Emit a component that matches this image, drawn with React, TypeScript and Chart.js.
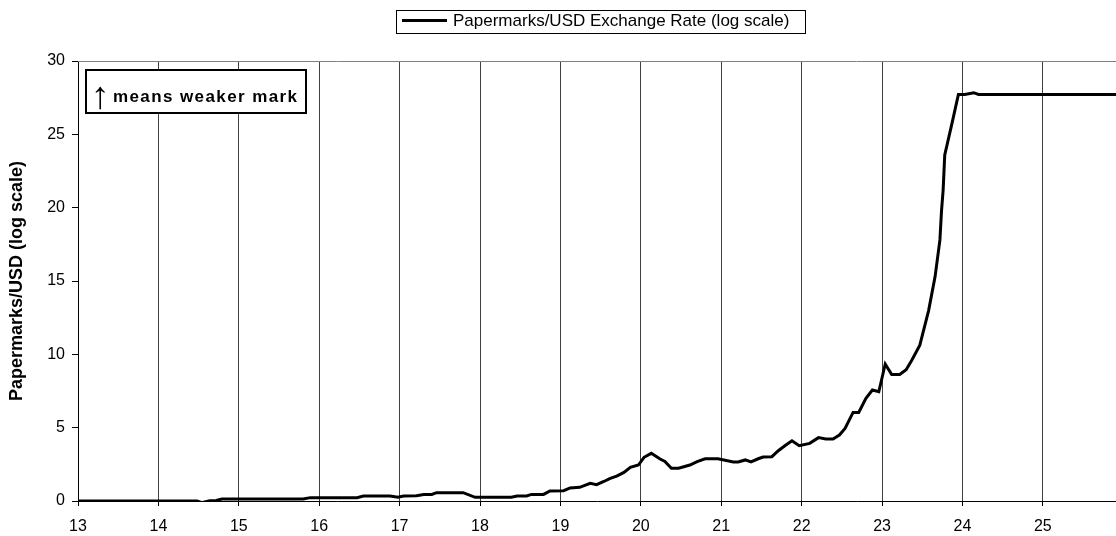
import React, { useEffect, useRef } from "react";
import { Chart, registerables } from "chart.js";

Chart.register(...registerables);

const seriesLabel = "Papermarks/USD Exchange Rate (log scale)";
const yAxisTitle = "Papermarks/USD (log scale)";
const noteArrow = "↑";
const noteText = "means weaker mark";

const xMin = 13;
const xMax = 25.91;
const yMin = 0;
const yMax = 30;
const yStep = 5;

const yearX = [
  13.0, 14.48, 14.54, 14.64, 14.72, 14.79, 15.8, 15.89, 16.47, 16.55, 16.88, 16.98,
  17.05, 17.21, 17.3, 17.4, 17.46, 17.79, 17.94, 18.39, 18.46, 18.58, 18.64, 18.79,
  18.87, 19.04, 19.12, 19.24, 19.37, 19.45, 19.54, 19.62, 19.7, 19.79, 19.87, 19.97,
  20.04, 20.13, 20.24, 20.3, 20.38, 20.47, 20.61, 20.7, 20.8, 20.96, 21.15, 21.21,
  21.3, 21.37, 21.46, 21.52, 21.63, 21.71, 21.8, 21.88, 21.97, 22.1, 22.21, 22.3,
  22.39, 22.47, 22.54, 22.64, 22.71, 22.8, 22.88, 22.96, 23.04, 23.12, 23.22, 23.3,
  23.37, 23.47, 23.58, 23.66, 23.72, 23.74, 23.76, 23.78, 23.87, 23.95, 24.03, 24.14,
  24.2, 25.91,
];

const rateY = [
  0.0, 0.0, -0.11, 0.02, 0.03, 0.14, 0.14, 0.23, 0.23, 0.34, 0.34, 0.25,
  0.34, 0.36, 0.45, 0.45, 0.57, 0.57, 0.25, 0.25, 0.34, 0.34, 0.45, 0.45,
  0.68, 0.7, 0.89, 0.93, 1.2, 1.11, 1.33, 1.54, 1.7, 1.95, 2.3, 2.45,
  2.98, 3.25, 2.86, 2.7, 2.23, 2.23, 2.45, 2.68, 2.88, 2.88, 2.66, 2.66,
  2.8, 2.66, 2.88, 3.0, 3.02, 3.43, 3.8, 4.11, 3.77, 3.93, 4.32, 4.23,
  4.23, 4.5, 4.95, 6.04, 6.04, 7.0, 7.57, 7.45, 9.34, 8.63, 8.63, 8.95,
  9.6, 10.63, 13.0, 15.3, 17.8, 19.8, 21.2, 23.6, 25.75, 27.72, 27.72, 27.84,
  27.72, 27.72,
];

const FONT = "'Liberation Sans', Arial, sans-serif";

const decorPlugin = {
  id: "decor",
  afterDraw(chart: any) {
    const ctx = chart.ctx as CanvasRenderingContext2D;
    const { left, right, top } = chart.chartArea;
    ctx.save();

    // top border of plot area
    ctx.strokeStyle = "#808080";
    ctx.lineWidth = 1;
    ctx.beginPath();
    ctx.moveTo(left, top + 0.5);
    ctx.lineTo(right, top + 0.5);
    ctx.stroke();

    // legend box
    const label = chart.data.datasets[0].label as string;
    ctx.fillStyle = "#ffffff";
    ctx.fillRect(396.5, 10.5, 409, 23);
    ctx.strokeStyle = "#000000";
    ctx.lineWidth = 1;
    ctx.strokeRect(396.5, 10.5, 409, 23);
    ctx.lineWidth = 3;
    ctx.beginPath();
    ctx.moveTo(402, 20.5);
    ctx.lineTo(447, 20.5);
    ctx.stroke();
    ctx.fillStyle = "#000000";
    ctx.font = `17px ${FONT}`;
    ctx.textBaseline = "middle";
    ctx.textAlign = "left";
    ctx.fillText(label, 453, 21.5);

    // note box
    ctx.fillStyle = "#ffffff";
    ctx.fillRect(86, 70, 220, 43);
    ctx.strokeStyle = "#000000";
    ctx.lineWidth = 2;
    ctx.strokeRect(86, 70, 220, 43);
    ctx.fillStyle = "#000000";
    ctx.textBaseline = "alphabetic";
    ctx.textAlign = "center";
    ctx.font = `38px ${FONT}`;
    ctx.fillText(noteArrow, 100, 108);
    ctx.textAlign = "left";
    ctx.font = `bold 17px ${FONT}`;
    (ctx as any).letterSpacing = "1.4px";
    ctx.fillText(noteText, 113, 102);
    (ctx as any).letterSpacing = "0px";

    ctx.restore();
  },
};

export default function App() {
  const canvasRef = useRef<HTMLCanvasElement | null>(null);

  useEffect(() => {
    if (!canvasRef.current) return;
    const points = yearX.map((x, i) => ({ x, y: rateY[i] }));
    const chart = new Chart(canvasRef.current, {
      type: "line",
      data: {
        datasets: [
          {
            label: seriesLabel,
            data: points,
            borderColor: "#000000",
            borderWidth: 3,
            pointRadius: 0,
            tension: 0,
            fill: false,
          },
        ],
      },
      options: {
        animation: false,
        responsive: true,
        maintainAspectRatio: false,
        layout: { padding: { top: 61, right: 0, left: 0, bottom: 0 } },
        plugins: {
          legend: { display: false },
          tooltip: { enabled: false },
        },
        scales: {
          x: {
            type: "linear",
            min: xMin,
            max: xMax,
            afterFit: (scale: any) => {
              scale.height = 35;
            },
            ticks: {
              stepSize: 1,
              includeBounds: false,
              color: "#000000",
              font: { family: FONT, size: 16 },
              padding: 11,
              maxRotation: 0,
              autoSkip: false,
              callback: (v: any) => String(v),
            },
            grid: {
              color: "#404040",
              lineWidth: 1,
              tickLength: 5,
              tickColor: "#000000",
            },
            border: { display: true, color: "#000000", width: 1 },
          },
          y: {
            type: "linear",
            min: yMin,
            max: yMax,
            afterFit: (scale: any) => {
              scale.width = 78;
            },
            ticks: {
              stepSize: yStep,
              color: "#000000",
              font: { family: FONT, size: 16 },
              padding: 7,
            },
            grid: {
              drawOnChartArea: false,
              tickLength: 6,
              tickColor: "#000000",
            },
            border: { display: true, color: "#000000", width: 1 },
            title: {
              display: true,
              text: yAxisTitle,
              color: "#000000",
              font: { family: FONT, size: 18, weight: "bold" },
              padding: { top: 6, bottom: 0 },
            },
          },
        },
      },
      plugins: [decorPlugin],
    });
    return () => chart.destroy();
  }, []);

  return (
    <div style={{ position: "absolute", left: 0, top: 0, width: 1116, height: 536, background: "#ffffff" }}>
      <canvas ref={canvasRef} />
    </div>
  );
}
